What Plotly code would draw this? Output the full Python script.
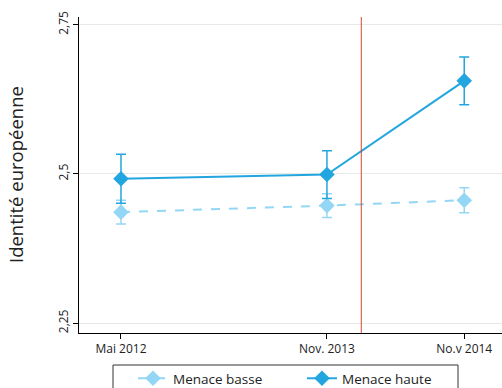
import plotly.graph_objects as go

# Data
months = [0, 18, 30]  # months since May 2012
tick_labels = ["Mai 2012", "Nov. 2013", "No.v 2014"]
low_vals = [2.436, 2.447, 2.456]
low_err = [0.020, 0.020, 0.021]
high_vals = [2.492, 2.499, 2.656]
high_err = [0.041, 0.040, 0.040]
event_month = 21

c_low = "#93d6f5"
c_high = "#23a6df"

fig = go.Figure()
fig.add_trace(go.Scatter(
    x=months, y=low_vals, name="Menace basse", mode="lines+markers",
    line=dict(color=c_low, width=2, dash="dash"),
    marker=dict(symbol="diamond", size=12, color=c_low),
    error_y=dict(type="data", array=low_err, color=c_low, thickness=1.5, width=5),
))
fig.add_trace(go.Scatter(
    x=months, y=high_vals, name="Menace haute", mode="lines+markers",
    line=dict(color=c_high, width=2),
    marker=dict(symbol="diamond", size=12, color=c_high),
    error_y=dict(type="data", array=high_err, color=c_high, thickness=1.5, width=5),
))
fig.add_shape(type="line", x0=event_month, x1=event_month, y0=0, y1=1,
              xref="x", yref="paper", line=dict(color="#d9442e", width=1))
# legend frame
fig.add_shape(type="rect", xref="paper", yref="paper",
              x0=(113 - 79) / 423, x1=(458 - 79) / 423,
              y0=(333 - 365) / 316, y1=(333 - 400) / 316,
              line=dict(color="#333", width=1), fillcolor="rgba(0,0,0,0)")

fig.add_annotation(text="Identité européenne", textangle=-90, xref="paper", yref="paper",
                   x=(15 - 79) / 423, y=0.5, xanchor="center", yanchor="middle",
                   showarrow=False, font=dict(size=18.5, color="#222"))

fig.update_layout(
    width=502, height=388,
    margin=dict(l=79, r=0, t=17, b=55, autoexpand=False),
    plot_bgcolor="white", paper_bgcolor="white",
    font=dict(family="Open Sans", size=12, color="#222"),
    showlegend=True,
    legend=dict(orientation="h", x=(133 - 79) / 423, xanchor="left",
                y=(333 - 363) / 316, yanchor="top",
                bgcolor="rgba(0,0,0,0)", borderwidth=0, font=dict(size=13.5),
                entrywidth=124, entrywidthmode="pixels"),
)
fig.update_xaxes(
    range=[-3.67, 33.3], tickvals=months, ticktext=tick_labels, automargin=False,
    showgrid=False, zeroline=False, showline=True, linecolor="black", linewidth=1,
    ticks="outside", ticklen=5, tickcolor="black", tickfont=dict(size=12),
)
fig.update_yaxes(
    range=[2.2335, 2.763], tickvals=[2.25, 2.5, 2.75], ticktext=["2,25", "2,5", "2,75"],
    tickangle=-90, showgrid=True, gridcolor="#e6ebe8", gridwidth=1, automargin=False,
    zeroline=False, showline=True, linecolor="black", linewidth=1,
    ticks="outside", ticklen=5, tickcolor="black", tickfont=dict(size=12),
)
fig.write_html("out.html", config={"displayModeBar": False},
               post_script="document.body.style.margin='0';")
